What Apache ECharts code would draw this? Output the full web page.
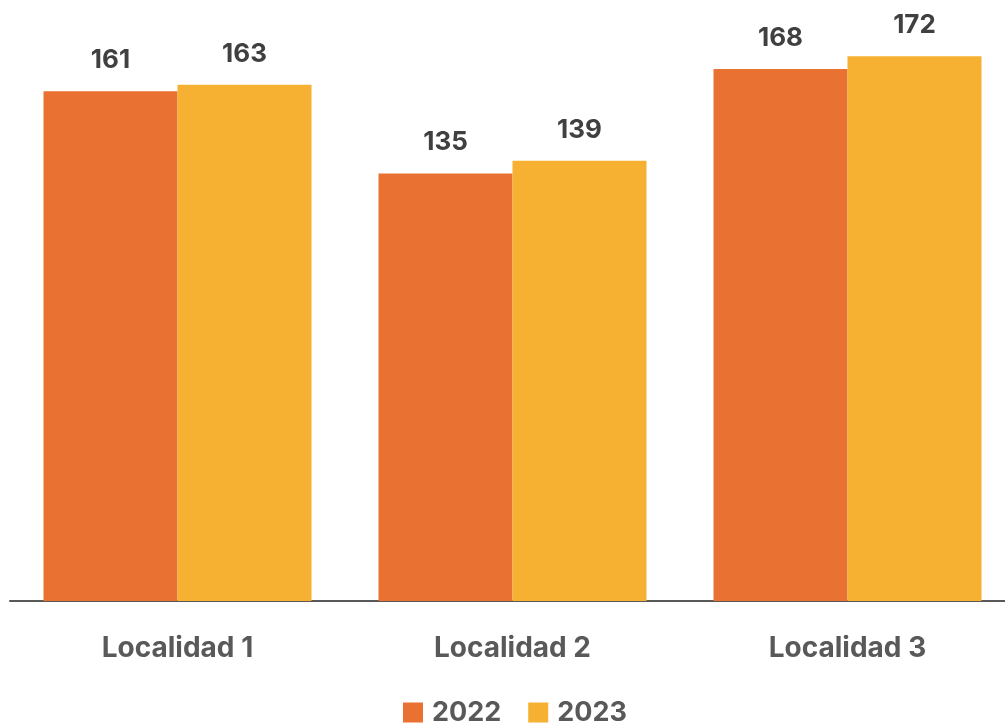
<!DOCTYPE html>
<html>
<head>
<meta charset="utf-8">
<script src="https://cdn.jsdelivr.net/npm/echarts@6/dist/echarts.min.js"></script>
<style>
html,body{margin:0;padding:0;background:#fff;}
#chart{width:1005px;height:727px;}
</style>
</head>
<body>
<div id="chart"></div>
<script>
const categories = ['Localidad 1', 'Localidad 2', 'Localidad 3'];
const seriesNames = ['2022', '2023'];
const values2022 = [161, 135, 168];
const values2023 = [163, 139, 172];

const FONT = 'Inter';
const chart = echarts.init(document.getElementById('chart'));
const labelStyle = {
  show: true, position: 'top', distance: 18,
  fontFamily: FONT, fontWeight: 700, fontSize: 26, color: '#404040'
};
chart.setOption({
  animation: false,
  grid: { left: 10, width: 1005, top: 31, bottom: 126, containLabel: false, outerBoundsMode: 'none' },
  legend: {
    data: seriesNames,
    left: 403, top: 699, padding: 0,
    itemWidth: 20, itemHeight: 20, itemGap: 27,
    icon: 'rect',
    textStyle: { fontFamily: FONT, fontWeight: 700, fontSize: 27, color: '#595959', padding: [0,0,0,4] }
  },
  xAxis: {
    type: 'category', data: categories,
    axisLine: { lineStyle: { color: '#595959', width: 2 } },
    axisTick: { show: false },
    axisLabel: { margin: 34, fontFamily: FONT, fontWeight: 700, fontSize: 28, color: '#595959' }
  },
  yAxis: {
    type: 'value', min: 0, max: 180, show: false,
    splitLine: { show: false }
  },
  series: [
    { name: seriesNames[0], type: 'bar', data: values2022, barGap: '0%', barCategoryGap: '20%',
      itemStyle: { color: '#E97132' }, label: labelStyle },
    { name: seriesNames[1], type: 'bar', data: values2023, barGap: '0%', barCategoryGap: '20%',
      itemStyle: { color: '#F6B032' }, label: labelStyle }
  ]
});
</script>
</body>
</html>
